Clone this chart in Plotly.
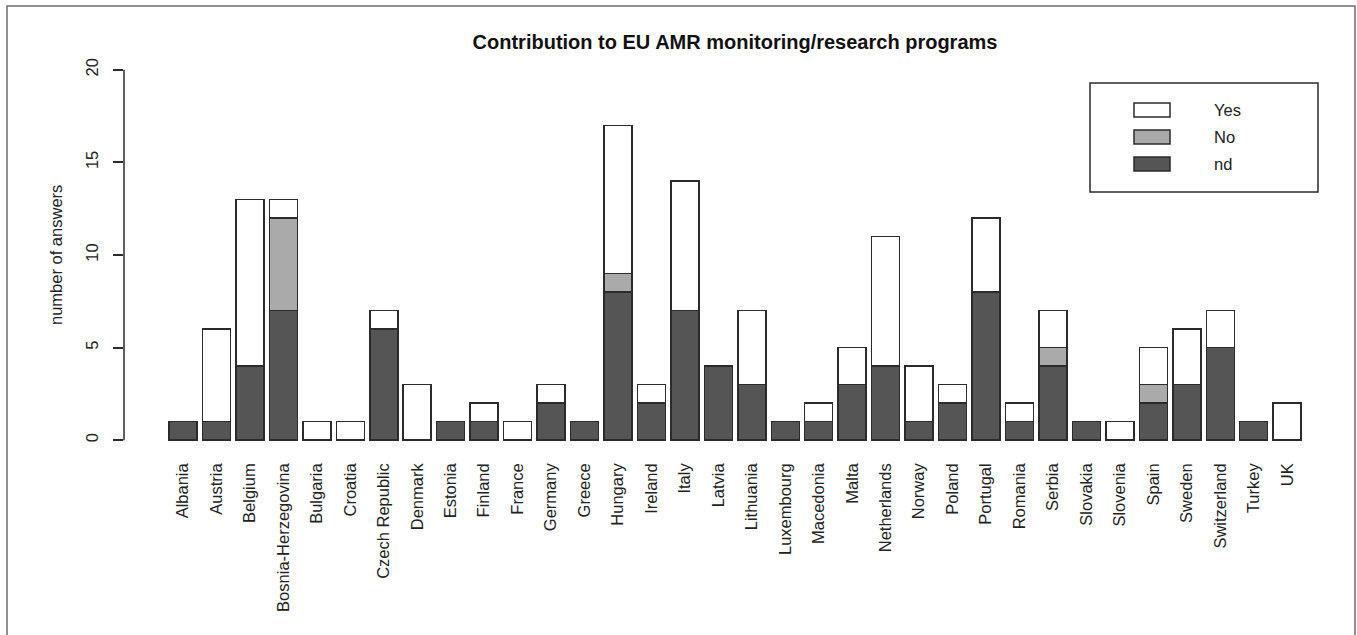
import plotly.graph_objects as go

# Survey answers per country (stacked: nd at the bottom, then No, then Yes)
countries = ["Albania", "Austria", "Belgium", "Bosnia-Herzegovina", "Bulgaria", "Croatia",
             "Czech Republic", "Denmark", "Estonia", "Finland", "France", "Germany", "Greece",
             "Hungary", "Ireland", "Italy", "Latvia", "Lithuania", "Luxembourg", "Macedonia",
             "Malta", "Netherlands", "Norway", "Poland", "Portugal", "Romania", "Serbia",
             "Slovakia", "Slovenia", "Spain", "Sweden", "Switzerland", "Turkey", "UK"]
nd_vals  = [1, 1, 4, 7, 0, 0, 6, 0, 1, 1, 0, 2, 1, 8, 2, 7, 4, 3, 1, 1, 3, 4, 1, 2, 8, 1, 4, 1, 0, 2, 3, 5, 1, 0]
no_vals  = [0, 0, 0, 5, 0, 0, 0, 0, 0, 0, 0, 0, 0, 1, 0, 0, 0, 0, 0, 0, 0, 0, 0, 0, 0, 0, 1, 0, 0, 1, 0, 0, 0, 0]
yes_vals = [0, 5, 9, 1, 1, 1, 1, 3, 0, 1, 1, 1, 0, 8, 1, 7, 0, 4, 0, 1, 2, 7, 3, 1, 4, 1, 2, 0, 1, 2, 3, 2, 0, 2]
y_ticks = [0, 5, 10, 15, 20]
series_names = ["Yes", "No", "nd"]

FONT = "Liberation Sans, Arial, sans-serif"
TEXT = "#222222"
EDGE = "#2b2b2b"
FILL = {"nd": "#555555", "No": "#aaaaaa", "Yes": "#ffffff"}

W, H = 1357, 635
L, R, T, B = 124, 11, 55, 180
PW, PH = W - L - R, H - T - B


def px_x(x):
    return (x - L) / PW


def px_y(y):
    return (H - B - y) / PH


fig = go.Figure()
for name, vals in [("nd", nd_vals), ("No", no_vals), ("Yes", yes_vals)]:
    fig.add_trace(go.Bar(
        x=countries, y=vals, name=name, showlegend=False,
        marker=dict(color=FILL[name], line=dict(color=EDGE, width=1.5)),
    ))

shapes = []
# y axis line spanning only the tick range
shapes.append(dict(type="line", xref="paper", yref="y", x0=0, x1=0,
                   y0=y_ticks[0], y1=y_ticks[-1], line=dict(color=EDGE, width=1.5)))
# outer frame
shapes.append(dict(type="rect", xref="paper", yref="paper",
                   x0=px_x(7), x1=px_x(1355), y0=px_y(645), y1=px_y(6),
                   line=dict(color="#6e6e6e", width=1.5), fillcolor="rgba(0,0,0,0)"))
# legend box
shapes.append(dict(type="rect", xref="paper", yref="paper",
                   x0=px_x(1090), x1=px_x(1318), y0=px_y(192), y1=px_y(83),
                   line=dict(color=EDGE, width=1.5), fillcolor="white"))

annotations = []
legend_rows = [("Yes", 110), ("No", 137), ("nd", 164)]
for name, cy in legend_rows:
    shapes.append(dict(type="rect", xref="paper", yref="paper",
                       x0=px_x(1134), x1=px_x(1170), y0=px_y(cy + 7), y1=px_y(cy - 7),
                       line=dict(color=EDGE, width=1.5), fillcolor=FILL[name]))
    annotations.append(dict(xref="paper", yref="paper", x=px_x(1212), y=px_y(cy),
                            xanchor="left", yanchor="middle", showarrow=False, text=name,
                            font=dict(family=FONT, size=16.5, color=TEXT)))

# y axis title
annotations.append(dict(xref="paper", yref="paper", x=px_x(56), y=0.5, textangle=-90,
                        xanchor="center", yanchor="middle", showarrow=False,
                        text="number of answers", font=dict(family=FONT, size=16.5, color=TEXT)))

fig.update_layout(
    width=W, height=H,
    margin=dict(l=L, r=R, t=T, b=B, autoexpand=False),
    paper_bgcolor="white", plot_bgcolor="white",
    barmode="stack", bargap=0.163,
    title=dict(text="<b>Contribution to EU AMR monitoring/research programs</b>",
               x=px_x(735), xref="paper", xanchor="center",
               y=1 - 42 / H, yref="container", yanchor="middle",
               font=dict(family=FONT, size=20, color="#111111")),
    xaxis=dict(type="category", range=[-1.763, 34.758], showline=False, showgrid=False,
               zeroline=False, ticks="", tickangle=-90, ticklabelstandoff=4,
               tickfont=dict(family=FONT, size=16.5, color=TEXT)),
    yaxis=dict(range=[-0.8, 20.8], tickvals=y_ticks, ticktext=[str(v) for v in y_ticks],
               showline=False, showgrid=False, zeroline=False, ticks="outside",
               ticklen=10, tickwidth=1.5, tickcolor=EDGE, tickangle=-90,
               ticklabelstandoff=8, tickfont=dict(family=FONT, size=16.5, color=TEXT)),
    shapes=shapes, annotations=annotations,
)

fig.write_html("out.html")
